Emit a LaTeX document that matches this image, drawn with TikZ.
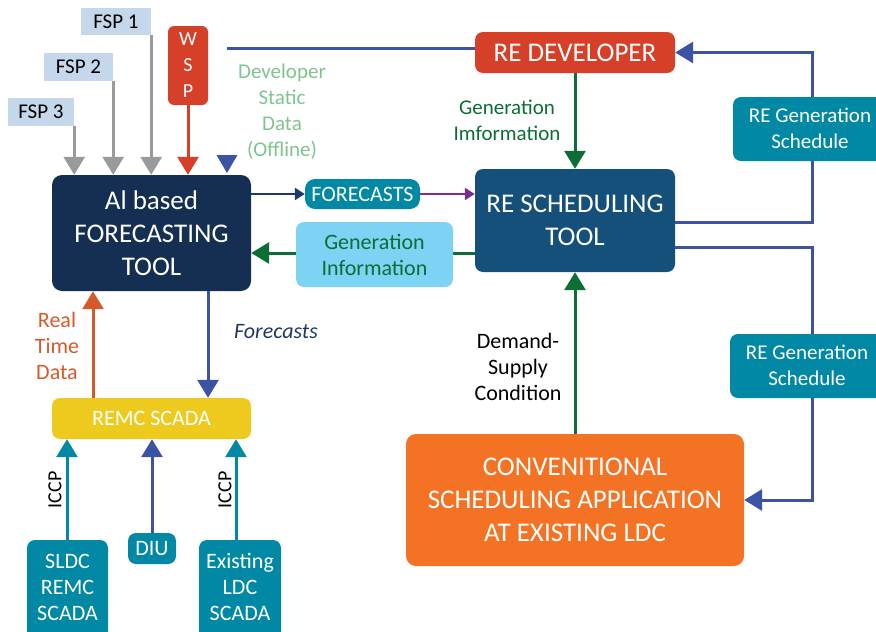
\documentclass[tikz,border=0pt]{standalone}
\usepackage{fontspec}
\setmainfont{Carlito}
\usetikzlibrary{arrows.meta,backgrounds}
\definecolor{cgray}{HTML}{9A9A9A}
\definecolor{cfsp}{HTML}{C5D7EA}
\definecolor{cred}{HTML}{D63F28}
\definecolor{cblue}{HTML}{3C52A4}
\definecolor{clgreen}{HTML}{7FC48F}
\definecolor{cgreen}{HTML}{0A6E35}
\definecolor{csched}{HTML}{14507A}
\definecolor{cai}{HTML}{142F52}
\definecolor{cteal}{HTML}{0088A4}
\definecolor{clblue}{HTML}{7DD3F3}
\definecolor{cpurple}{HTML}{7B2D8B}
\definecolor{corange}{HTML}{F37223}
\definecolor{cyellow}{HTML}{EECA1E}
\definecolor{crt}{HTML}{D55A2B}
\definecolor{cnavy}{HTML}{1F3864}
\tikzset{
  box/.style={rectangle, inner sep=0pt, align=center, text=white},
  rbox/.style={box, rounded corners=8pt},
  big/.style={font=\fontsize{27}{33}\selectfont},
  mid/.style={font=\fontsize{22}{26}\selectfont},
  sml/.style={font=\fontsize{21}{26}\selectfont},
  conn/.style={line width=3pt},
  bigtip/.style={-{Triangle[width=21pt,length=18pt]}},
  smalltip/.style={-{Triangle[width=12pt,length=10pt]}},
}
\begin{document}
\begin{tikzpicture}[x=1pt,y=-1pt]
\useasboundingbox (0,0) rectangle (876,632);
\clip (0,0) rectangle (876,632);
% nodes
\node[box, fill=cfsp, text=black, sml, minimum width=70pt, minimum height=27pt] (fsp1) at (116,21.5) {FSP 1};
\node[box, fill=cfsp, text=black, sml, minimum width=69pt, minimum height=28pt] (fsp2) at (78.5,67) {FSP 2};
\node[box, fill=cfsp, text=black, sml, minimum width=66pt, minimum height=28pt] (fsp3) at (41,112) {FSP 3};
\node[rbox, fill=cred, font=\fontsize{20}{26}\selectfont, minimum width=40pt, minimum height=79pt, rounded corners=6pt] (wsp) at (188,65.5) {W\\S\\P};
\node[rbox, fill=cai, big, minimum width=199pt, minimum height=116pt, rounded corners=10pt] (ai) at (151.5,233) {Al based\\FORECASTING\\TOOL};
\node[rbox, fill=cred, big, minimum width=200pt, minimum height=41pt] (redev) at (575,52.5) {RE DEVELOPER};
\node[rbox, fill=csched, big, minimum width=200pt, minimum height=103pt] (resched) at (575,220.5) {RE SCHEDULING\\TOOL};
\node[rbox, fill=cteal, minimum width=160pt, minimum height=64pt] (regs1) at (813,129) {};
\node[sml, text=white, align=center] (regs1t) at (810,128) {RE Generation\\Schedule};
\node[rbox, fill=cteal, minimum width=164pt, minimum height=64pt] (regs2) at (812,366) {};
\node[sml, text=white, align=center] (regs2t) at (807,365) {RE Generation\\Schedule};
\node[rbox, fill=corange, big, minimum width=338pt, minimum height=132pt, rounded corners=10pt] (conv) at (575,500) {CONVENITIONAL\\SCHEDULING APPLICATION\\AT EXISTING LDC};
\node[rbox, fill=cteal, mid, minimum width=115pt, minimum height=30pt, rounded corners=10pt] (fc) at (362.5,194) {FORECASTS};
\node[rbox, fill=clblue, text=cgreen, mid, minimum width=157pt, minimum height=65pt] (geninfo) at (374.5,254.5) {Generation\\Information};
\node[rbox, fill=cyellow, mid, minimum width=199pt, minimum height=41pt] (remc) at (151.5,418.5) {REMC SCADA};
\node[rbox, fill=cteal, minimum width=81pt, minimum height=100pt] (sldc) at (67.5,590) {};
\node[mid, text=white, align=center] (sldct) at (67.5,587) {SLDC\\REMC\\SCADA};
\node[rbox, fill=cteal, mid, minimum width=48pt, minimum height=31pt] (diu) at (152,548.5) {DIU};
\node[rbox, fill=cteal, minimum width=82pt, minimum height=100pt] (exist) at (240,590) {};
\node[mid, text=white, align=center] (existt) at (240,587) {Existing\\LDC\\SCADA};
% labels
\node[sml, text=clgreen, align=center] (dsd) at (282,112) {Developer\\Static\\Data\\(Offline)};
\node[sml, text=cgreen, align=center] (gil) at (507,120) {Generation\\Imformation};
\node[mid, text=black, align=center] (dsc) at (518,367) {Demand-\\Supply\\Condition};
\node[mid, text=crt, align=center] (rtd) at (57,346) {Real\\Time\\Data};
\node[text=cnavy, font=\fontsize{22}{26}\selectfont\itshape] (fcl) at (276,332) {Forecasts};
\node[text=black, font=\fontsize{20}{24}\selectfont, rotate=90] (iccp1) at (55,490) {ICCP};
\node[text=black, font=\fontsize{20}{24}\selectfont, rotate=90] (iccp2) at (225,490) {ICCP};
% connectors
\begin{scope}[on background layer]
\draw[conn, cgray, bigtip] (fsp3.south east) -- (fsp3.south east |- ai.north);
\draw[conn, cgray, bigtip] (fsp2.south east) -- (fsp2.south east |- ai.north);
\draw[conn, cgray, bigtip] (fsp1.south east) -- (fsp1.south east |- ai.north);
\draw[conn, cred, bigtip] (wsp.south) -- (wsp.south |- ai.north);
\coordinate (bl) at (227,48);
\draw[conn, cblue] (redev.west |- bl) -- (bl);
\fill[cblue] (216.5,155) -- (237.5,155) -- (227,173) -- cycle;
\draw[conn, cgreen, bigtip] (redev.south) -- (resched.north);
\coordinate (r1) at (812,222);
\draw[conn, cblue, bigtip] (resched.east |- r1) -- (r1) -- (r1 |- redev.east) -- (redev.east);
\coordinate (r2) at (812,247);
\draw[conn, cblue, bigtip] (resched.east |- r2) -- (r2) -- (r2 |- conv.east) -- (conv.east);
\draw[conn, cgreen, bigtip] (conv.north) -- (resched.south);
\draw[conn, cnavy, line width=2.4pt, smalltip] (ai.east |- fc.west) -- (fc.west);
\draw[conn, cpurple, line width=2.4pt, smalltip] (fc.east) -- (resched.west |- fc.east);
\coordinate (g1) at (0,253);
\draw[conn, cgreen] (resched.west |- g1) -- (geninfo.east |- g1);
\draw[conn, cgreen, bigtip] (geninfo.west |- g1) -- (ai.east |- g1);
\coordinate (rt) at (93,0);
\draw[conn, crt, bigtip] (rt |- remc.north) -- (rt |- ai.south);
\coordinate (fx) at (208,0);
\draw[conn, cblue, bigtip] (fx |- ai.south) -- (fx |- remc.north);
\coordinate (s1) at (67,0);
\draw[conn, cteal, bigtip] (s1 |- sldc.north) -- (s1 |- remc.south);
\coordinate (s2) at (236,0);
\draw[conn, cteal, bigtip] (s2 |- exist.north) -- (s2 |- remc.south);
\draw[conn, cblue, bigtip] (diu.north) -- (diu.north |- remc.south);
\end{scope}
\end{tikzpicture}
\end{document}
